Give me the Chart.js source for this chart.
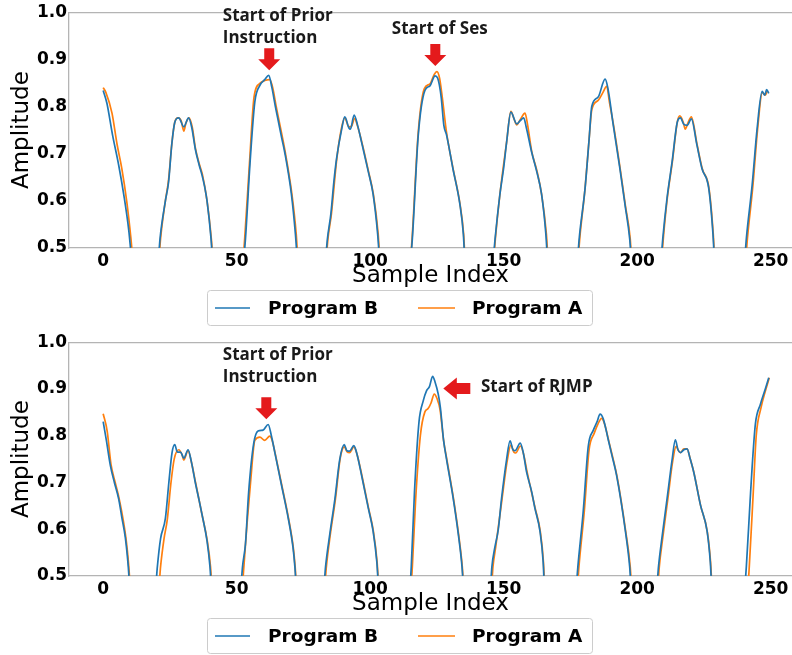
<!DOCTYPE html>
<html><head><meta charset="utf-8">
<script src="https://cdn.jsdelivr.net/npm/chart.js@4.4.0/dist/chart.umd.min.js"></script>
<style>
html,body{margin:0;padding:0;background:#fff;}
#wrap{position:relative;width:792px;height:655px;overflow:hidden;}
.panel{position:absolute;left:0;width:792px;}
canvas{display:block;}
</style></head><body>
<div id="wrap">
<div class="panel" style="top:0;height:330px"><canvas id="c1" width="792" height="330"></canvas></div>
<div class="panel" style="top:330px;height:325px"><canvas id="c2" width="792" height="325"></canvas></div>
</div>
<script>
// ---------- DATA ----------
const seriesLabels = ['Program B', 'Program A'];
const xTicks = [0, 50, 100, 150, 200, 250];
const yTicks = [0.5, 0.6, 0.7, 0.8, 0.9, 1.0];

// Top panel, Program B
const topIndexB = [0,1.4,3.5,5.8,7.8,9.6,10.6,15.5,
 20.6,21.3,23.3,24.5,25.7,26.8,28.3,30.2,32.0,33.2,34.5,36.0,37.0,38.0,38.9,40.4,41,46.5,
 52.5,53.3,55.0,56.8,58.7,60.5,62.0,63.2,64.5,65.5,66.8,68.0,70.5,72.0,72.8,78,
 83.2,84.0,85.3,86.4,87.4,89.3,90.5,92.0,92.6,94.0,95.3,96.8,99.3,101.1,102.8,103.6,109.5,
 115,115.8,118,120.5,122.4,124.3,125.3,126.6,127.6,128.6,131,133.6,134.9,135.5,141,
 146,146.8,148.6,150,151.1,152.7,154.9,156.2,157.5,158.5,160.5,162.4,164.2,165.8,166.5,172,
 177.6,178.3,180.5,182.0,183,185.4,188,189.0,191.1,193.5,195.5,197.2,197.9,203.5,
 208.9,209.6,211.2,213.1,215,216.2,217.5,218.7,220.3,222.4,224.3,226.8,228.4,229.0,235,
 240.2,240.9,243.1,244.9,246.8,247.8,248.5,249.3];
const topAmpB = [0.834,0.807,0.74,0.676,0.61,0.537,0.48,0.30,
 0.47,0.52,0.60,0.64,0.72,0.766,0.776,0.757,0.776,0.755,0.71,0.675,0.655,0.63,0.60,0.52,0.47,0.30,
 0.47,0.52,0.68,0.81,0.845,0.857,0.866,0.84,0.80,0.772,0.735,0.703,0.614,0.53,0.47,0.30,
 0.47,0.52,0.573,0.64,0.689,0.751,0.778,0.755,0.752,0.782,0.76,0.724,0.662,0.614,0.53,0.47,0.30,
 0.47,0.52,0.738,0.834,0.844,0.865,0.86,0.82,0.76,0.74,0.668,0.593,0.53,0.47,0.30,
 0.47,0.52,0.614,0.67,0.724,0.788,0.763,0.77,0.776,0.755,0.703,0.662,0.614,0.53,0.47,0.30,
 0.47,0.52,0.627,0.73,0.80,0.82,0.858,0.84,0.759,0.67,0.59,0.52,0.47,0.30,
 0.47,0.52,0.606,0.683,0.766,0.776,0.762,0.76,0.774,0.718,0.668,0.627,0.53,0.47,0.30,
 0.47,0.52,0.635,0.751,0.832,0.824,0.836,0.828];

// Top panel, Program A
const topIndexA = [0,1.0,3.3,5.2,7.0,8.8,10.4,11.2,16,
 20.8,21.5,23.3,24.5,25.7,26.8,28.0,29.2,30.2,31.0,32.2,33.4,34.6,36.0,37.2,38.9,40.5,41.2,46.5,
 52.3,53.0,54.8,56.5,58.7,60.5,62.4,63.5,64.8,65.8,68.2,70.7,72.3,73,78,
 83.4,84.2,85.5,87.5,89.3,90.5,92.0,93.0,94.2,95.3,96.9,99.4,101.2,103.0,103.7,109.5,
 115.0,115.7,118,120.3,122.4,124.0,125.0,126.0,127.0,128.6,131,133.6,135.0,135.6,141,
 146.2,146.9,148.6,151.1,152.7,154.0,154.9,156.2,158.0,159.0,160.5,162.4,164.2,166.0,166.7,172,
 177.8,178.5,180.5,182,183,185.4,187.2,188.6,189.6,191.2,193.6,195.6,197.4,198,203.5,
 209.1,209.8,211.3,213.2,215,216.0,217.3,218.0,219.0,220.3,222.5,224.4,226.9,228.5,229.1,235,
 240.6,241.3,243.4,245.1,246.9,248.0,248.8];
const topAmpA = [0.840,0.83,0.786,0.72,0.668,0.60,0.52,0.47,0.30,
 0.47,0.52,0.60,0.645,0.72,0.766,0.776,0.77,0.748,0.765,0.776,0.755,0.71,0.678,0.655,0.60,0.52,0.47,0.30,
 0.47,0.52,0.68,0.82,0.849,0.855,0.857,0.84,0.80,0.772,0.703,0.614,0.53,0.47,0.30,
 0.47,0.52,0.573,0.689,0.755,0.776,0.757,0.758,0.775,0.758,0.724,0.662,0.614,0.53,0.47,0.30,
 0.47,0.52,0.745,0.838,0.848,0.868,0.874,0.86,0.82,0.745,0.67,0.595,0.53,0.47,0.30,
 0.47,0.52,0.614,0.724,0.79,0.772,0.761,0.772,0.786,0.76,0.705,0.665,0.614,0.53,0.47,0.30,
 0.47,0.52,0.627,0.73,0.793,0.813,0.83,0.843,0.81,0.759,0.67,0.59,0.52,0.47,0.30,
 0.47,0.52,0.606,0.683,0.766,0.78,0.766,0.752,0.765,0.778,0.718,0.668,0.627,0.53,0.47,0.30,
 0.47,0.52,0.635,0.751,0.83,0.824,0.834];

// Bottom panel, Program B
const botIndexB = [0,1.2,2.7,4.2,5.8,7.0,8.3,9.4,10.0,15,
 19.6,20.3,21.5,23.3,24.6,25.8,26.8,27.8,29.0,30.2,31.8,33.0,34.5,36.0,37.0,38.9,40.0,40.6,46,
 51.5,52.2,53.3,54.5,56.4,58.0,59.9,61.8,63.0,64.3,66.8,69.3,71.1,71.8,72.4,78,
 82.6,83.3,84.9,86.8,88.6,90.3,91.3,92.3,93.9,95.0,96.8,99.3,101.1,102.5,103.2,109,
 114.8,115.4,116.6,118.3,119.9,121.1,122.2,123.4,124.3,125.5,126.3,127.5,128.6,131.1,133,134.4,135,140,
 145.0,145.6,146.7,148,149.2,151.1,152.4,153.5,154.3,156.2,157.3,158.6,160.5,161.7,163.6,164.8,165.3,171,
 177.1,177.8,179.8,181.7,183.6,185,186.1,187.3,189.2,190.6,192.3,195.6,197.2,197.8,203,
 207.3,208,209.3,211.2,213.1,214.3,215.3,216.2,217.5,218.7,219.8,221.2,223.7,226.2,227.4,228,234,
 240.2,240.9,242.3,243.1,244.3,246.2,248,249.3];
const botAmpB = [0.83,0.79,0.736,0.70,0.665,0.625,0.582,0.52,0.47,0.30,
 0.47,0.52,0.58,0.623,0.70,0.764,0.781,0.765,0.765,0.752,0.77,0.745,0.70,0.66,0.632,0.575,0.52,0.47,0.30,
 0.47,0.52,0.569,0.68,0.784,0.81,0.812,0.824,0.80,0.764,0.694,0.624,0.561,0.52,0.47,0.30,
 0.47,0.52,0.59,0.665,0.749,0.781,0.768,0.767,0.779,0.762,0.715,0.645,0.596,0.53,0.47,0.30,
 0.47,0.52,0.68,0.83,0.875,0.896,0.905,0.927,0.915,0.889,0.86,0.79,0.75,0.666,0.59,0.52,0.47,0.30,
 0.47,0.52,0.561,0.60,0.665,0.749,0.789,0.77,0.768,0.784,0.765,0.722,0.68,0.645,0.596,0.53,0.47,0.30,
 0.47,0.52,0.638,0.778,0.812,0.83,0.846,0.836,0.791,0.757,0.715,0.596,0.52,0.47,0.30,
 0.47,0.52,0.582,0.665,0.749,0.791,0.77,0.764,0.77,0.772,0.752,0.722,0.652,0.596,0.53,0.47,0.30,
 0.47,0.52,0.66,0.736,0.826,0.868,0.90,0.924];

// Bottom panel, Program A
const botIndexA = [0,1.5,2.9,4.5,6.0,8.5,9.6,10.2,15,
 20.8,21.5,22.8,24.0,25.4,26.6,28.3,29.5,30.2,31.8,33,34.6,37,39,40.2,40.8,46,
 52,52.7,54,55.2,56.8,58.7,60.5,62.4,63.3,64.5,66.9,69.4,71.2,71.9,72.5,78,
 82.9,83.6,85.1,87,88.8,90.3,91.3,92.3,93.9,95.1,96.9,99.4,101.2,102.6,103.3,109,
 115.2,115.8,117,118.8,120.5,121.7,122.8,124,125,126.2,127.5,128.7,131.2,133.1,134.5,135.1,140,
 145.4,146,147,149.4,151.3,152.7,153.8,154.5,156.3,157.5,158.8,161.8,163.7,164.9,165.4,171,
 177.6,178.2,180.2,182,183.9,185.3,186.7,187.8,189.4,190.8,192.5,195.7,197.4,198,203,
 207.7,208.3,209.6,211.5,213.3,214.6,215.5,216.3,217.5,218.7,219.9,221.3,223.8,226.3,227.5,228.1,234,
 241.4,242,243.5,244.6,246.4,248,249.5];
const botAmpA = [0.847,0.81,0.74,0.70,0.665,0.582,0.52,0.47,0.30,
 0.47,0.52,0.58,0.62,0.70,0.75,0.77,0.76,0.748,0.768,0.745,0.70,0.632,0.575,0.52,0.47,0.30,
 0.47,0.52,0.62,0.70,0.79,0.797,0.79,0.799,0.79,0.76,0.694,0.624,0.561,0.52,0.47,0.30,
 0.47,0.52,0.59,0.665,0.752,0.776,0.766,0.764,0.776,0.76,0.715,0.645,0.596,0.53,0.47,0.30,
 0.47,0.52,0.66,0.80,0.851,0.858,0.87,0.889,0.88,0.855,0.79,0.75,0.666,0.59,0.52,0.47,0.30,
 0.47,0.52,0.561,0.665,0.745,0.78,0.765,0.763,0.778,0.76,0.722,0.645,0.596,0.53,0.47,0.30,
 0.47,0.52,0.638,0.77,0.805,0.825,0.837,0.825,0.788,0.755,0.712,0.596,0.52,0.47,0.30,
 0.47,0.52,0.582,0.665,0.745,0.777,0.768,0.764,0.772,0.772,0.75,0.72,0.65,0.594,0.53,0.47,0.30,
 0.47,0.52,0.68,0.80,0.86,0.895,0.924];

// Annotations (data coordinates of text baselines / arrow tips)
const topNotes = [
  {text:'Start of Prior', x:44.8, y:0.981},
  {text:'Instruction', x:44.8, y:0.935},
  {text:'Start of Ses', x:108.1, y:0.954}
];
const topArrows = [
  {x:62.2, y:0.877, dir:'down'},
  {x:124.4, y:0.886, dir:'down'}
];
const botNotes = [
  {text:'Start of Prior', x:44.8, y:0.962},
  {text:'Instruction', x:44.8, y:0.914},
  {text:'Start of RJMP', x:141.5, y:0.893}
];
const botArrows = [
  {x:61.1, y:0.835, dir:'down'},
  {x:127.4, y:0.901, dir:'left'}
];

// ---------- RENDER ----------
const COLORS = ['#1f77b4', '#ff7f0e'];
const SPINE = '#b4b4b4';

function zip(xs, ys){ return xs.map((x,i)=>({x:x, y:ys[i]})); }

function drawArrow(ctx, tx, ty, dir){
  const len = dir==='left' ? 27 : 22, head = dir==='left' ? 13.5 : 11, hw = 11, sw = 5;
  ctx.save();
  ctx.fillStyle = '#e41a1c';
  ctx.beginPath();
  if (dir === 'down'){
    ctx.moveTo(tx, ty);
    ctx.lineTo(tx - hw, ty - head);
    ctx.lineTo(tx - sw, ty - head);
    ctx.lineTo(tx - sw, ty - len);
    ctx.lineTo(tx + sw, ty - len);
    ctx.lineTo(tx + sw, ty - head);
    ctx.lineTo(tx + hw, ty - head);
  } else {
    ctx.moveTo(tx, ty);
    ctx.lineTo(tx + head, ty - hw);
    ctx.lineTo(tx + head, ty - sw - 0.5);
    ctx.lineTo(tx + len, ty - sw - 0.5);
    ctx.lineTo(tx + len, ty + sw + 0.5);
    ctx.lineTo(tx + head, ty + sw + 0.5);
    ctx.lineTo(tx + head, ty + hw);
  }
  ctx.closePath();
  ctx.fill();
  ctx.restore();
}

const decor = {
  id:'decor',
  afterDraw(chart){
    const ctx = chart.ctx, a = chart.chartArea, xs = chart.scales.x, ys = chart.scales.y;
    const cfg = chart.options.plugins.decor;
    // top spine
    ctx.save();
    ctx.strokeStyle = SPINE; ctx.lineWidth = 1.3;
    ctx.beginPath(); ctx.moveTo(a.left, a.top + 0.5); ctx.lineTo(a.right, a.top + 0.5); ctx.stroke();
    ctx.restore();
    // annotations
    ctx.save();
    ctx.font = 'bold 17px "Open Sans"';
    ctx.fillStyle = '#1a1a1a';
    ctx.textAlign = 'left'; ctx.textBaseline = 'alphabetic';
    cfg.notes.forEach(n => ctx.fillText(n.text, xs.getPixelForValue(n.x), ys.getPixelForValue(n.y)));
    ctx.restore();
    cfg.arrows.forEach(r => drawArrow(ctx, xs.getPixelForValue(r.x), ys.getPixelForValue(r.y), r.dir));
    // legend box
    const top = xs.bottom, left = 207, right = 592, h = 35;
    ctx.save();
    ctx.strokeStyle = '#cccccc'; ctx.lineWidth = 1;
    ctx.beginPath();
    if (ctx.roundRect) ctx.roundRect(left + 0.5, top + 0.5, right - left, h, 3); else ctx.rect(left + 0.5, top + 0.5, right - left, h);
    ctx.stroke();
    const cy = top + h / 2 + 0.5;
    const itemX = [[215, 250, 268], [418, 455, 472]];
    ctx.font = 'bold 18.5px "DejaVu Sans"';
    ctx.textBaseline = 'middle'; ctx.textAlign = 'left'; ctx.fillStyle = '#000';
    chart.data.datasets.forEach((d, i) => {
      const p = itemX[i];
      ctx.strokeStyle = d.borderColor; ctx.lineWidth = 1.6;
      ctx.beginPath(); ctx.moveTo(p[0], cy); ctx.lineTo(p[1], cy); ctx.stroke();
      ctx.fillText(d.label, p[2], cy + 1);
    });
    ctx.restore();
  }
};

function makeChart(id, xB, yB, xA, yA, notes, arrows, bottomPad){
  const ds = (label, data, color) => ({label:label, data:data, borderColor:color, borderWidth:1.7,
    pointRadius:0, cubicInterpolationMode:'monotone', fill:false});
  return new Chart(document.getElementById(id), {
    type:'line',
    data:{datasets:[
      ds(seriesLabels[0], zip(xB, yB), COLORS[0]),
      ds(seriesLabels[1], zip(xA, yA), COLORS[1])
    ]},
    options:{
      responsive:false, animation:false, events:[],
      layout:{padding:{top:7, right:0, bottom:bottomPad, left:0}, autoPadding:false},
      plugins:{legend:{display:false}, tooltip:{enabled:false}, decor:{notes:notes, arrows:arrows}},
      scales:{
        x:{type:'linear', min:-12.8, max:258,
          grid:{display:false, drawTicks:false},
          border:{display:true, color:SPINE, width:1.3},
          afterBuildTicks(s){ s.ticks = xTicks.map(v => ({value:v})); },
          ticks:{color:'#000', font:{family:'DejaVu Sans', weight:'bold', size:17}, padding:3, maxRotation:0, autoSkip:false},
          title:{display:true, text:'Sample Index', color:'#000', font:{family:'DejaVu Sans', size:23}, padding:{top:0, bottom:0}},
          afterFit(s){ s.height = 42; }
        },
        y:{min:0.5, max:1.0,
          grid:{display:false, drawTicks:false},
          border:{display:true, color:SPINE, width:1.3},
          afterBuildTicks(s){ s.ticks = yTicks.map(v => ({value:v})); },
          ticks:{color:'#000', font:{family:'DejaVu Sans', weight:'bold', size:17}, padding:2, callback:v => Number(v).toFixed(1)},
          title:{display:true, text:'Amplitude', color:'#000', font:{family:'DejaVu Sans', size:23}, padding:{top:8, bottom:0}},
          afterFit(s){ s.width = 69; }
        }
      }
    },
    plugins:[decor]
  });
}

makeChart('c1', topIndexB, topAmpB, topIndexA, topAmpA, topNotes, topArrows, 40);
makeChart('c2', botIndexB, botAmpB, botIndexA, botAmpA, botNotes, botArrows, 37);
</script>
</body></html>
